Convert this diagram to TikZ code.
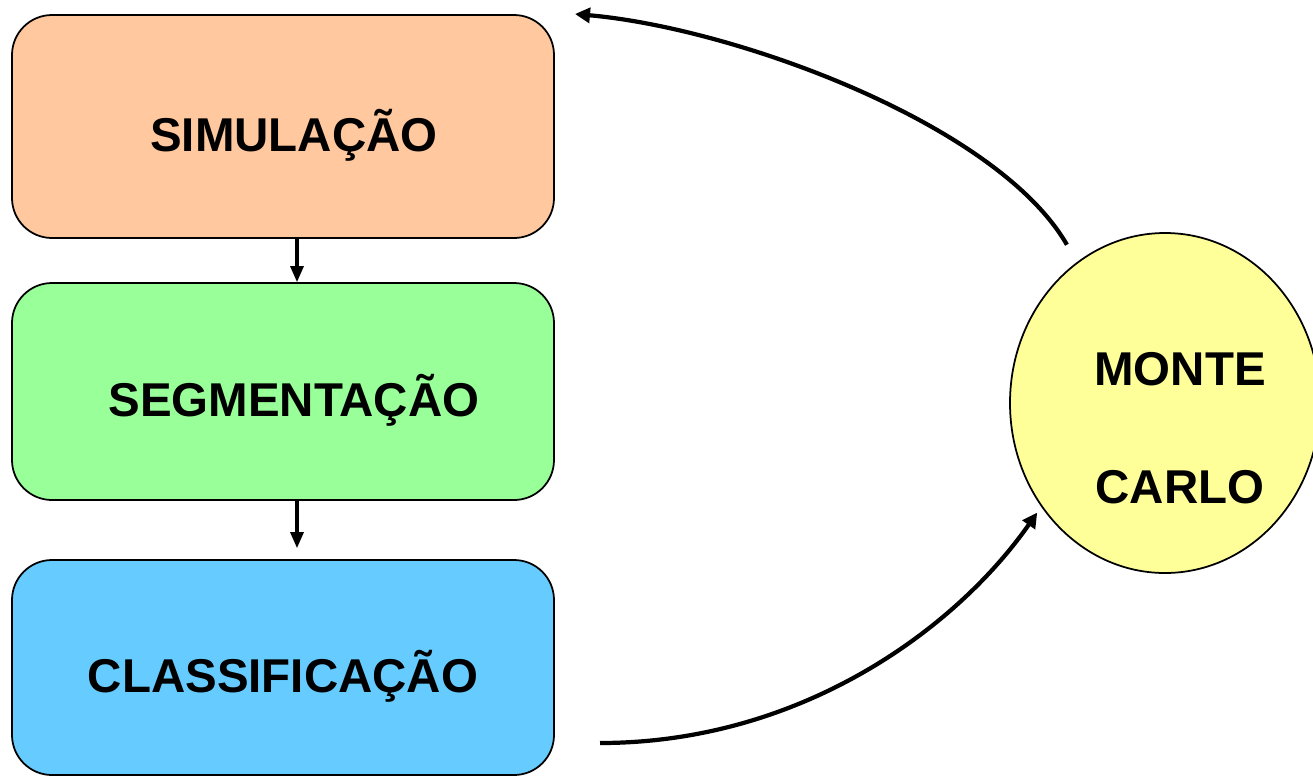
\documentclass[tikz,border=0pt]{standalone}
\usepackage{fontspec}
\setmainfont{Liberation Sans}
\usetikzlibrary{arrows.meta,shapes.geometric}

\definecolor{simcolor}{HTML}{FFC89E}
\definecolor{segcolor}{HTML}{99FF99}
\definecolor{clacolor}{HTML}{66CCFF}
\definecolor{mccolor}{HTML}{FFFF99}

\begin{document}
\begin{tikzpicture}[
    stage/.style={draw, line width=0.5pt, rounded corners=0.4cm,
      minimum width=5.42cm, text height=17.5pt, text depth=3.2pt,
      font=\bfseries\fontsize{13.5}{16}\selectfont},
    down/.style={line width=0.9pt, -{Triangle[length=0.16cm,width=0.13cm]}},
    loop/.style={line width=1.2pt, -{Triangle[length=0.15cm,width=0.15cm]}}]
  \useasboundingbox (0,0) rectangle (13.13,-7.76);

  \node[stage, fill=simcolor, minimum height=2.23cm] (sim) at (2.83,-1.265) {\hspace{0.22cm}SIMULAÇÃO};
  \node[stage, fill=segcolor, minimum height=2.17cm] (seg) at (2.83,-3.915) {\hspace{0.22cm}SEGMENTAÇÃO};
  \node[stage, fill=clacolor, minimum height=2.15cm] (cla) at (2.83,-6.675) {CLASSIFICAÇÃO};

  \node[ellipse, draw, line width=0.5pt, fill=mccolor, inner sep=0pt,
    minimum width=3.1cm, minimum height=3.4cm] (mc) at (11.65,-4.03) {};
  \node[font=\bfseries\fontsize{13.5}{16}\selectfont, align=center]
    (mctext) at ([xshift=0.15cm,yshift=-0.25cm]mc.center) {MONTE\\[0.62cm]CARLO};

  \coordinate (back) at (5.75,-0.14);
  \coordinate (out) at (6.00,-7.43);

  \draw[down] ([xshift=0.14cm]sim.south) -- ([xshift=0.14cm]seg.north);
  \draw[down, shorten >=0.11cm] ([xshift=0.14cm]seg.south) -- ([xshift=0.14cm]cla.north);

  \draw[loop, shorten <=0.2cm] (mc.122) .. controls +(120:1.6) and +(-5:1.6) .. (back);
  \draw[loop, shorten >=0.07cm] (out) .. controls +(2.0,0) and +(235:1.5) .. (mc.220);
\end{tikzpicture}
\end{document}
